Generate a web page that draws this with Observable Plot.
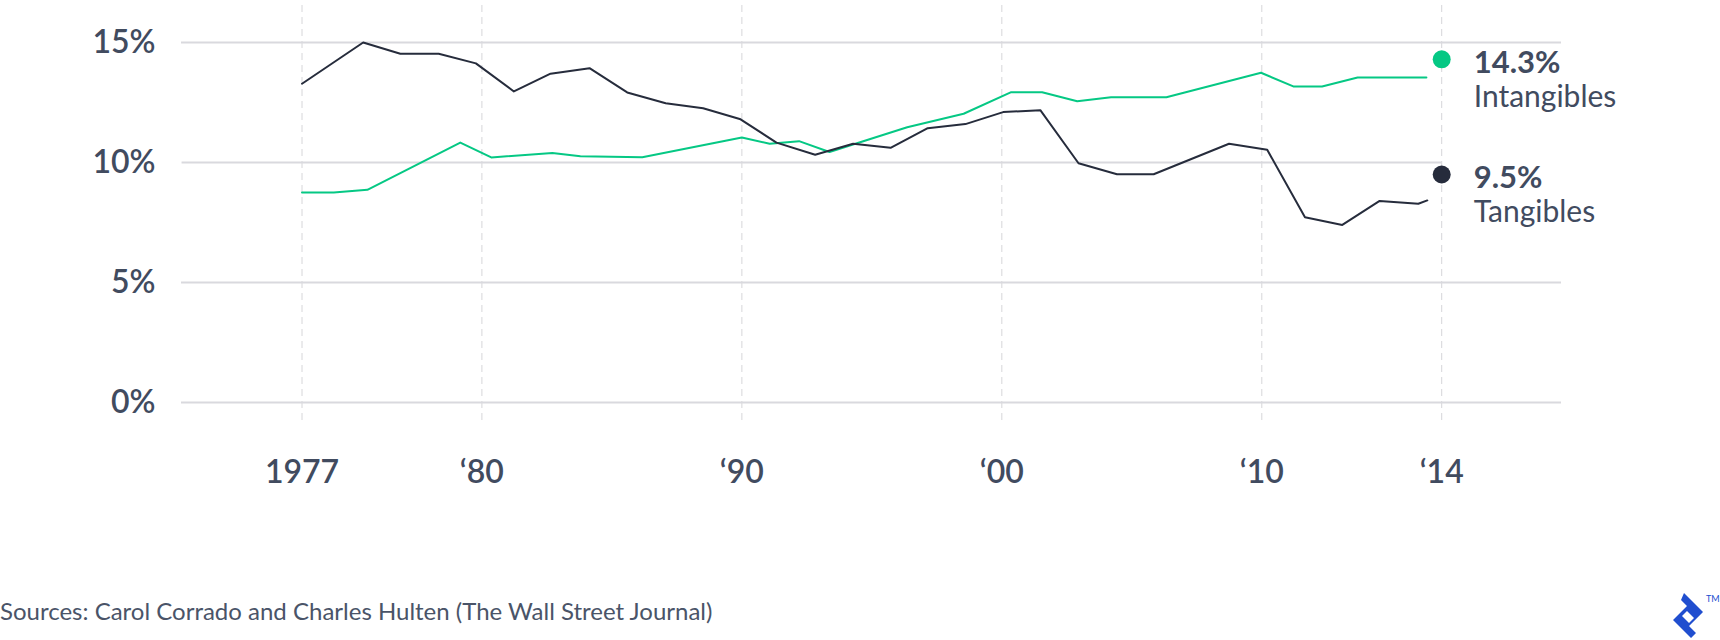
<!DOCTYPE html>
<html>
<head>
<meta charset="utf-8">
<script src="https://cdn.jsdelivr.net/npm/d3@7"></script>
<script src="https://cdn.jsdelivr.net/npm/@observablehq/plot@0.6"></script>
<style>
  html, body { margin: 0; padding: 0; background: #fff; }
  #wrap { position: relative; width: 1720px; height: 640px; font-family: Lato, "Open Sans", sans-serif; overflow: hidden; }
  #chart svg { display: block; }
  #source { position: absolute; left: 0; top: 597px; font-size: 24px; line-height: 28px; color: #4a5468; white-space: nowrap; }
  #brand { position: absolute; left: 1672px; top: 592px; }
</style>
</head>
<body>
<div id="wrap">
  <div id="chart"></div>
  <div id="source">Sources: Carol Corrado and Charles Hulten (The Wall Street Journal)</div>
  <svg id="brand" width="48" height="48" viewBox="0 0 48 48">
    <path d="M12 1 L31 20 L17 34 L24 41 L19 46 L1 28 L15 14 L9 8 Z" fill="#204ecf"/>
    <path d="M15 19 L22 26 L17 31 L10 24 Z" fill="#fff"/>
    <text x="34" y="10" font-size="9" fill="#204ecf" font-family="Lato, sans-serif">TM</text>
  </svg>
</div>
<script>
// Investment as a share of output, 1977–2014
const tangibleYears = [1977.0, 1978.02, 1978.64, 1979.28, 1979.90, 1981.23, 1982.64, 1984.14, 1985.59, 1987.07,
  1988.51, 1989.95, 1991.33, 1992.82, 1994.28, 1995.72, 1997.15, 1998.60, 2000.05, 2001.48,
  2002.95, 2004.43, 2005.84, 2008.74, 2010.12, 2010.96, 2011.79, 2012.62, 2013.48, 2013.68];
const tangibleValues = [13.28, 15.0, 14.53, 14.53, 14.13, 12.96, 13.70, 13.93, 12.92, 12.47,
  12.26, 11.80, 10.83, 10.32, 10.78, 10.61, 11.43, 11.60, 12.10, 12.18,
  9.97, 9.51, 9.51, 10.78, 10.53, 7.72, 7.40, 8.40, 8.28, 8.42];

const intangibleYears = [1977.0, 1977.53, 1978.09, 1979.64, 1980.36, 1982.71, 1983.79, 1986.17, 1990.0, 1991.07,
  1992.20, 1993.37, 1996.36, 1998.53, 2000.36, 2001.55, 2002.90, 2004.20, 2006.33, 2009.97,
  2010.70, 2011.34, 2012.13, 2013.66];
const intangibleValues = [8.75, 8.75, 8.86, 10.83, 10.21, 10.40, 10.26, 10.22, 11.04, 10.78,
  10.89, 10.44, 11.47, 12.03, 12.93, 12.93, 12.55, 12.72, 12.72, 13.74,
  13.17, 13.17, 13.54, 13.54];

// Latest readings shown at the right edge
const endYear = 2014;
const endSeries = ["Intangibles", "Tangibles"];
const endValues = [14.3, 9.5];

// Axis ticks
const xTickYears = [1977, 1980, 1990, 2000, 2010, 2014];
const xTickLabels = ["1977", "‘80", "‘90", "‘00", "‘10", "‘14"];
const yTickValues = [0, 5, 10, 15];

const navy = "#262c3c";
const green = "#05c884";
const ink = "#414b5f";
const grid = "#d9d9de";

const tangible = tangibleYears.map((year, i) => ({year, value: tangibleValues[i]}));
const intangible = intangibleYears.map((year, i) => ({year, value: intangibleValues[i]}));
const ends = endSeries.map((name, i) => ({name, value: endValues[i], color: i === 0 ? green : navy}));
const tickLabel = new Map(xTickYears.map((y, i) => [y, xTickLabels[i]]));

const chart = Plot.plot({
  width: 1720,
  height: 560,
  marginLeft: 181,
  marginRight: 159,
  marginTop: 5,
  marginBottom: 138,
  style: {fontFamily: "Lato, 'Open Sans', sans-serif", background: "#fff"},
  x: {type: "linear", domain: [1977, 1980, 2010, 2014], range: [301.5, 481.4, 1261.3, 1441.2]},
  y: {domain: [0, 15], range: [402, 42]},
  marks: [
    Plot.ruleX(xTickYears, {stroke: "#d6d6d9", strokeWidth: 1, strokeDasharray: "7,5"}),
    Plot.ruleY(yTickValues.filter(v => v !== 10), {stroke: grid, strokeWidth: 2}),
    Plot.ruleY([10], {x1: 1975, x2: endYear, stroke: grid, strokeWidth: 2}),
    Plot.line(intangible, {x: "year", y: "value", stroke: green, strokeWidth: 2}),
    Plot.line(tangible, {x: "year", y: "value", stroke: navy, strokeWidth: 2}),
    Plot.dot(ends, {x: () => endYear, y: "value", fill: "color", r: 9}),
    Plot.text(ends, {x: () => endYear, y: "value", text: d => d.value + "%", dx: 32, dy: 4,
      textAnchor: "start", lineAnchor: "middle", fontSize: 31, fontWeight: 700, fill: ink}),
    Plot.text(ends, {x: () => endYear, y: "value", text: "name", dx: 32, dy: 38,
      textAnchor: "start", lineAnchor: "middle", fontSize: 30, fontWeight: 400, fill: ink}),
    Plot.axisY({ticks: yTickValues, tickFormat: d => d + "%", tickSize: 0, tickPadding: 26,
      fontSize: 32, fontWeight: 600, fill: ink, label: null}),
    Plot.axisX({ticks: xTickYears, tickFormat: d => tickLabel.get(d), tickSize: 0, tickPadding: 38,
      fontSize: 32, fontWeight: 600, fill: ink, label: null})
  ]
});
document.getElementById("chart").append(chart);
</script>
</body>
</html>
